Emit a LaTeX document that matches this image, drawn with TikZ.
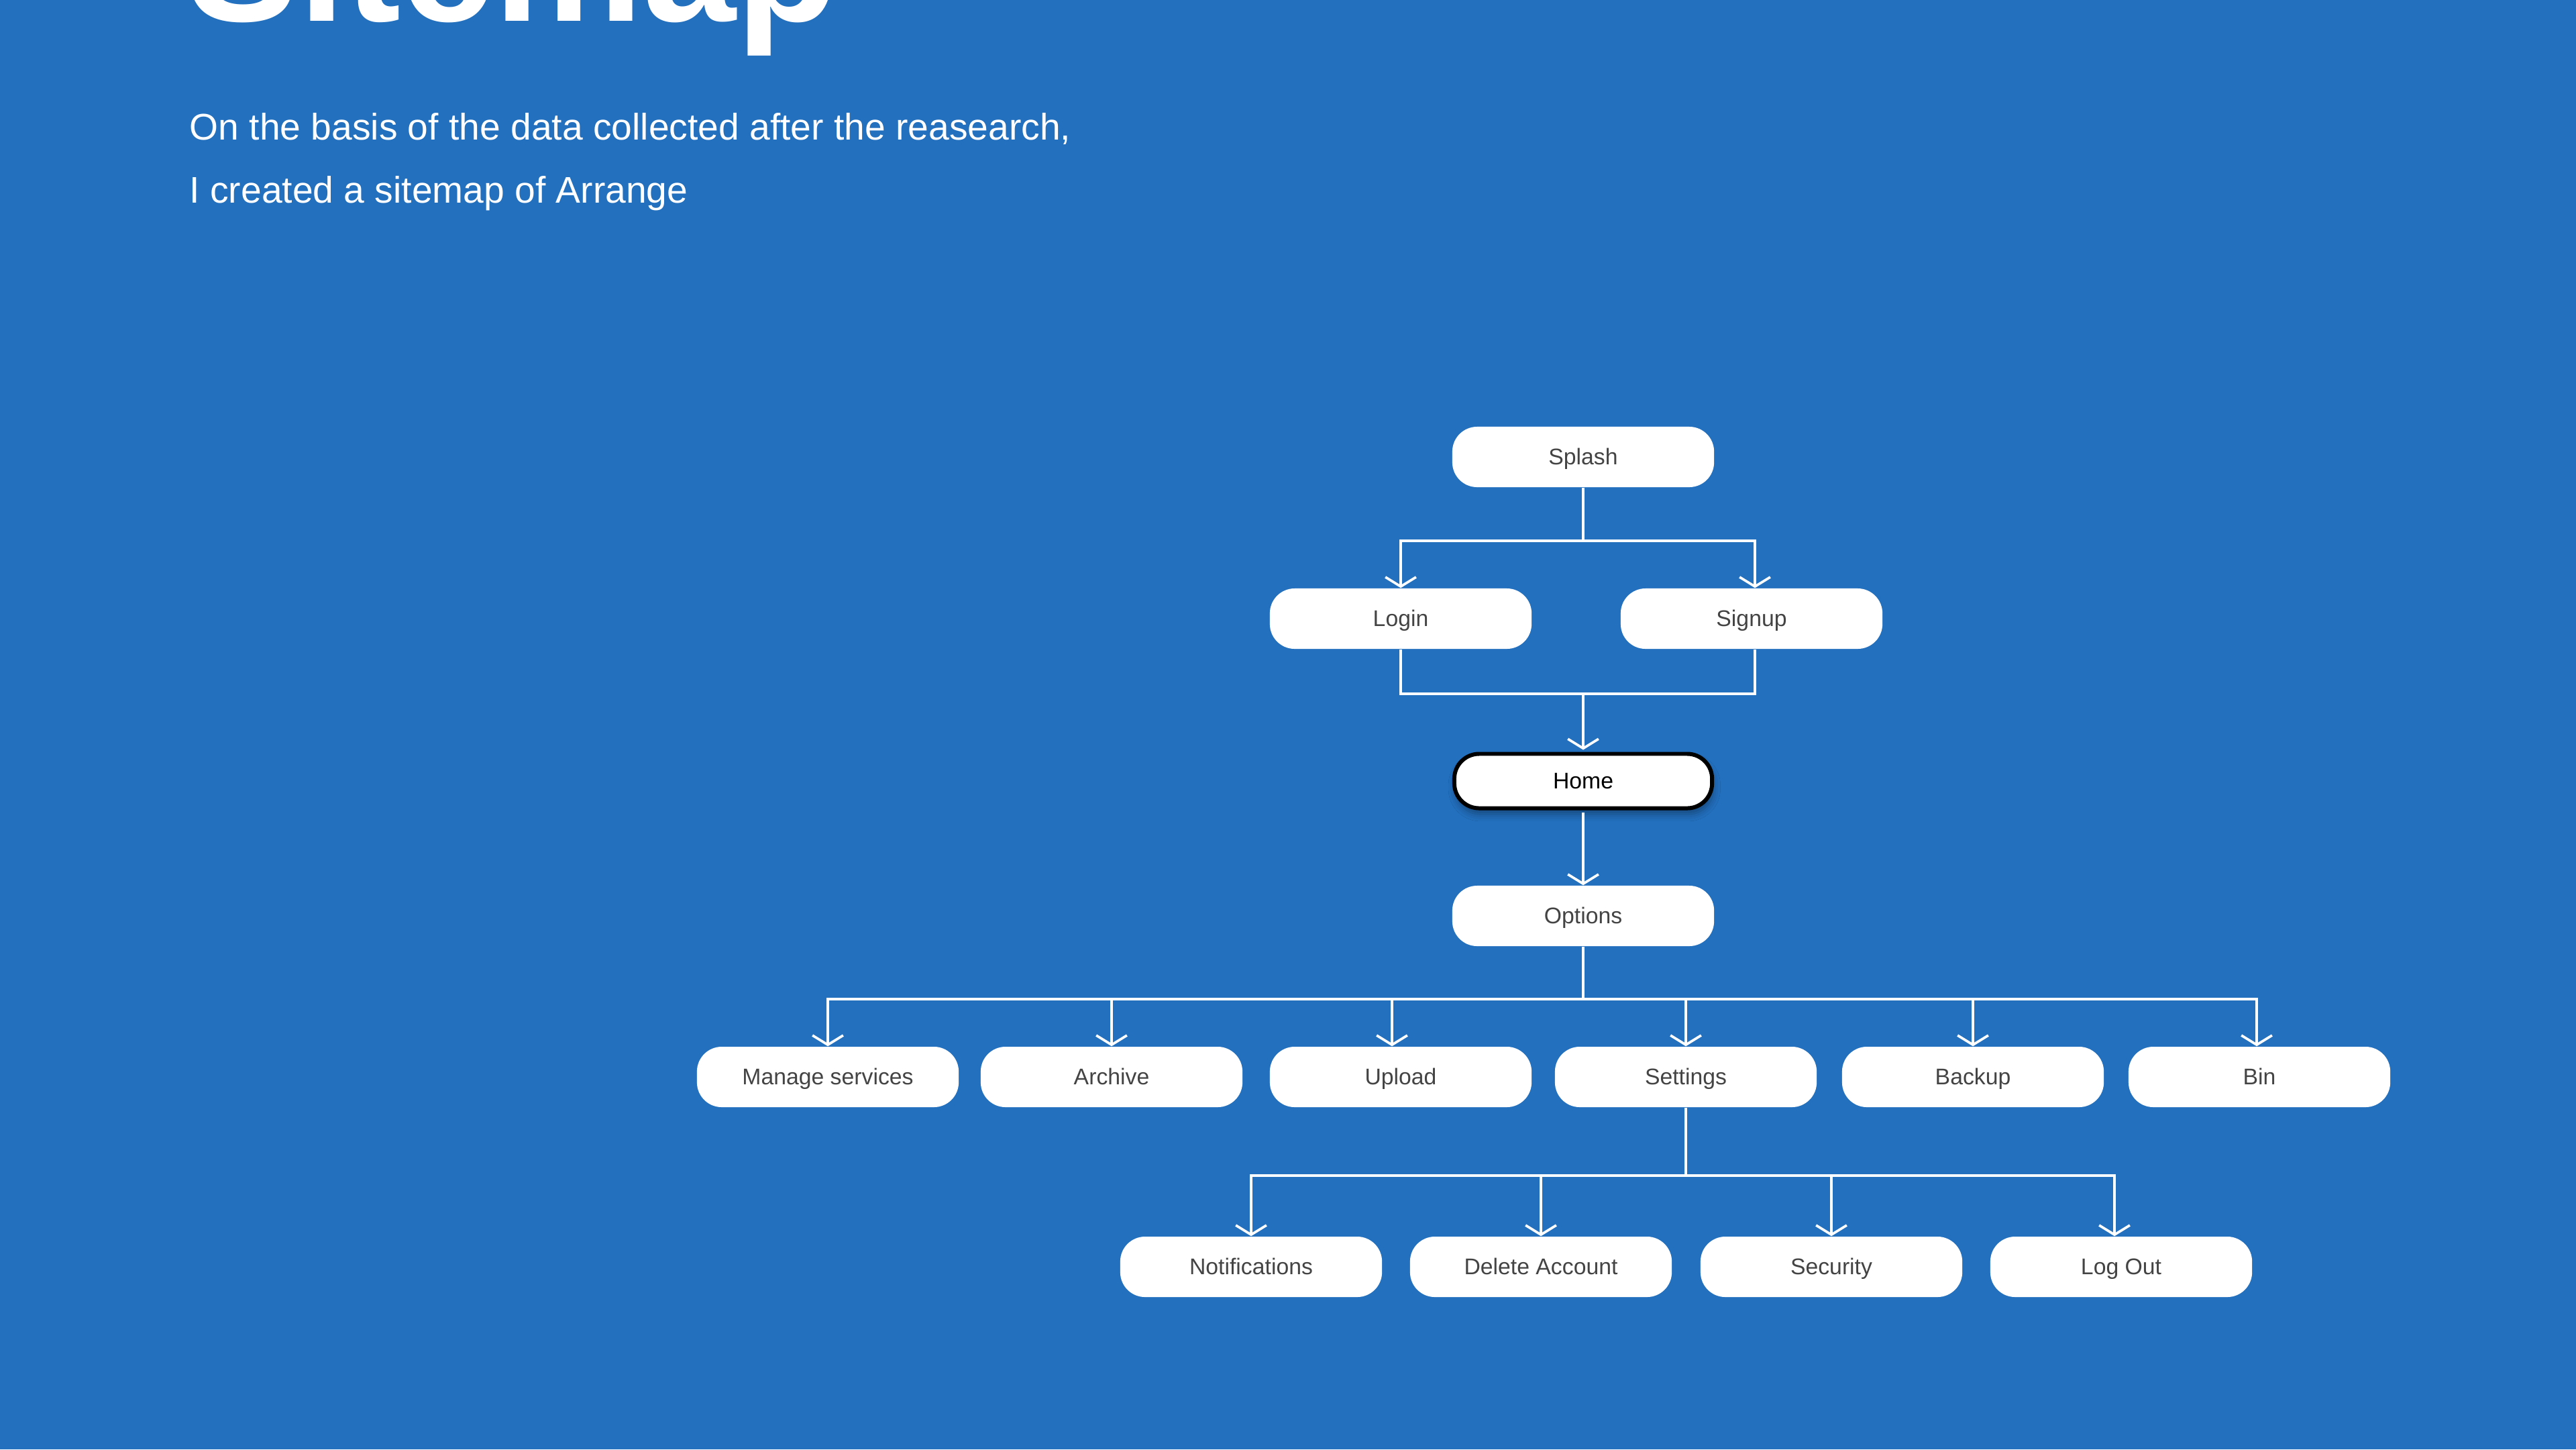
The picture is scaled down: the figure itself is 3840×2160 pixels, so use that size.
\documentclass[tikz,border=0pt]{standalone}
\usepackage{fontspec}
\setmainfont{Liberation Sans}
\usetikzlibrary{arrows.meta,shadows.blur,calc}
\definecolor{bgblue}{RGB}{35,112,191}
\definecolor{boxtext}{RGB}{68,68,68}
\tikzset{
  pbox/.style={rectangle, rounded corners=0.37cm, fill=white, text=boxtext,
    minimum width=3.9cm, minimum height=0.9cm, inner sep=0pt,
    text height=6.9pt, text depth=0.4pt,
    font=\fontsize{9.6pt}{11pt}\selectfont},
  homebox/.style={pbox, draw=black, line width=1.7pt, text=black,
    minimum width=3.84cm, minimum height=0.81cm,
    blur shadow={shadow xshift=0.5pt, shadow yshift=-2.5pt, shadow blur radius=3pt, shadow opacity=35}},
  link/.style={draw=white, line width=1.05pt},
  arr/.style={link, -{Straight Barb[length=4pt,width=13pt,line width=1.05pt]}},
  subtext/.style={anchor=base west, inner sep=0pt, text=white, font=\fontsize{15.7pt}{18pt}\selectfont},
}
\begin{document}
\begin{tikzpicture}[x=0.01cm,y=-0.01cm]
\clip (0,0) rectangle (3840,2160);
\fill[bgblue] (0,0) rectangle (3840,2160);
\useasboundingbox (0,0) rectangle (3840,2160);

% title and subtitle
\node[anchor=base west, inner sep=0pt, text=white, font=\fontsize{71pt}{71pt}\selectfont\bfseries] (title) at (278,31) {Sitemap};
\node[subtext] (sub1) at (282,208) {On the basis of the data collected after the reasearch,};
\node[subtext] (sub2) at (282,302) {I created a sitemap of Arrange};

% nodes
\node[pbox] (splash) at (2360,681) {Splash};
\node[pbox] (login) at (2088,922) {Login};
\node[pbox] (signup) at (2611,922) {Signup};
\node[homebox] (home) at (2360,1164) {Home};
\node[pbox] (options) at (2360,1365) {Options};

\node[pbox] (manage) at (1234,1605) {Manage services};
\node[pbox] (archive) at (1657,1605) {Archive};
\node[pbox] (upload) at (2088,1605) {Upload};
\node[pbox] (settings) at (2513,1605) {Settings};
\node[pbox] (backup) at (2941,1605) {Backup};
\node[pbox] (bin) at (3368,1605) {Bin};

\node[pbox] (notif) at (1865,1888) {Notifications};
\node[pbox] (delete) at (2297,1888) {Delete Account};
\node[pbox] (security) at (2730,1888) {Security};
\node[pbox] (logout) at (3162,1888) {Log Out};

% junction coordinates
\coordinate (j0) at (2360,806);
\coordinate (j1) at (2360,1034);
\coordinate (j2) at (2360,1489);
\coordinate (j3) at (2513,1752);

% connectors
\draw[link] (splash.south) -- (j0);
\draw[arr] (j0) -| (login.north);
\draw[arr] (j0) -| ([xshift=0.05cm]signup.north);

\draw[link] (login.south) |- (j1) -| ([xshift=0.05cm]signup.south);
\draw[arr] (j1) -- ([yshift=0.03cm]home.north);

\draw[arr] ([yshift=-0.03cm]home.south) -- (options.north);

\draw[link] (options.south) -- (j2);
\draw[arr] (j2) -| (manage.north);
\draw[arr] (j2) -| (archive.north);
\draw[arr] (j2) -| ([xshift=-0.13cm]upload.north);
\draw[arr] (j2) -| (settings.north);
\draw[arr] (j2) -| (backup.north);
\draw[arr] (j2) -| ([xshift=-0.04cm]bin.north);

\draw[link] (settings.south) -- (j3);
\draw[arr] (j3) -| (notif.north);
\draw[arr] (j3) -| (delete.north);
\draw[arr] (j3) -| (security.north);
\draw[arr] (j3) -| ([xshift=-0.1cm]logout.north);
\end{tikzpicture}
\end{document}
